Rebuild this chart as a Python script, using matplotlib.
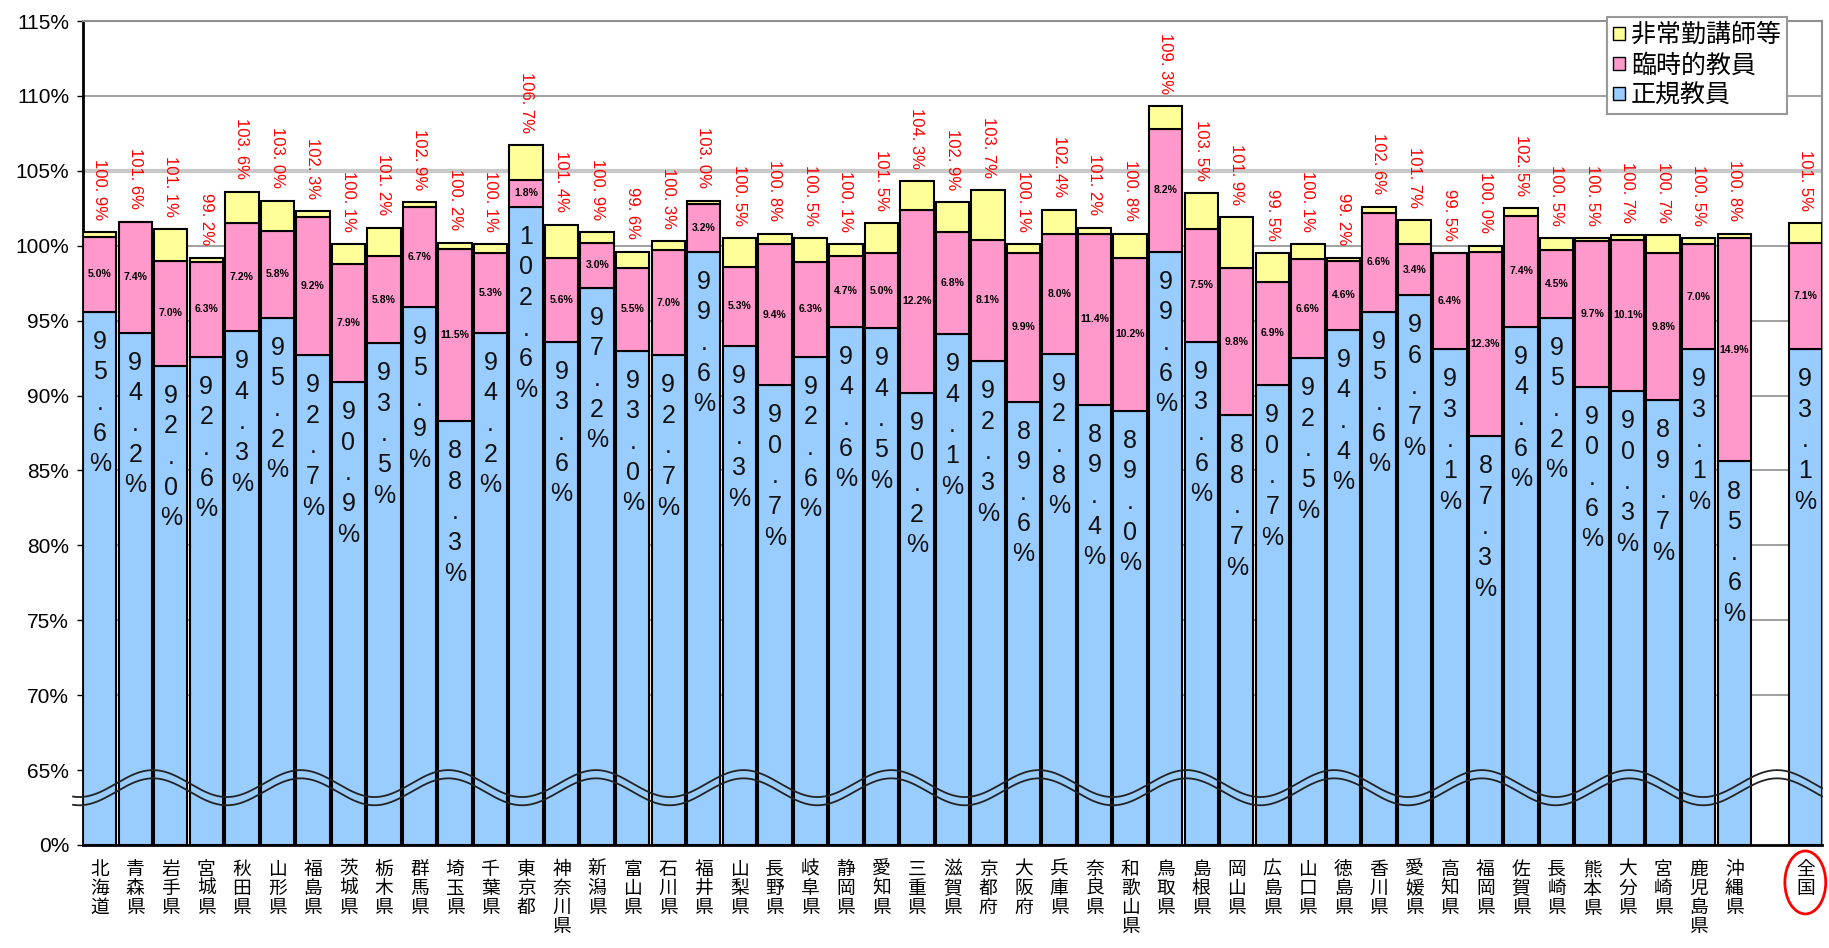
import numpy as np
import matplotlib.pyplot as plt
from matplotlib.patches import Patch, Ellipse

plt.rcParams['font.family'] = ['Liberation Sans', 'Noto Sans CJK JP', 'DejaVu Sans']

# 都道府県 + 全国
names = ['北海道', '青森県', '岩手県', '宮城県', '秋田県', '山形県', '福島県', '茨城県',
         '栃木県', '群馬県', '埼玉県', '千葉県', '東京都', '神奈川県', '新潟県', '富山県',
         '石川県', '福井県', '山梨県', '長野県', '岐阜県', '静岡県', '愛知県', '三重県',
         '滋賀県', '京都府', '大阪府', '兵庫県', '奈良県', '和歌山県', '鳥取県', '島根県',
         '岡山県', '広島県', '山口県', '徳島県', '香川県', '愛媛県', '高知県', '福岡県',
         '佐賀県', '長崎県', '熊本県', '大分県', '宮崎県', '鹿児島県', '沖縄県', '全国']

# 正規教員 (%)
seiki = [95.6, 94.2, 92.0, 92.6, 94.3, 95.2, 92.7, 90.9, 93.5, 95.9, 88.3, 94.2,
         102.6, 93.6, 97.2, 93.0, 92.7, 99.6, 93.3, 90.7, 92.6, 94.6, 94.5, 90.2,
         94.1, 92.3, 89.6, 92.8, 89.4, 89.0, 99.6, 93.6, 88.7, 90.7, 92.5, 94.4,
         95.6, 96.7, 93.1, 87.3, 94.6, 95.2, 90.6, 90.3, 89.7, 93.1, 85.6, 93.1]

# 臨時的教員 (%)
rinji = [5.0, 7.4, 7.0, 6.3, 7.2, 5.8, 9.2, 7.9, 5.8, 6.7, 11.5, 5.3,
         1.8, 5.6, 3.0, 5.5, 7.0, 3.2, 5.3, 9.4, 6.3, 4.7, 5.0, 12.2,
         6.8, 8.1, 9.9, 8.0, 11.4, 10.2, 8.2, 7.5, 9.8, 6.9, 6.6, 4.6,
         6.6, 3.4, 6.4, 12.3, 7.4, 4.5, 9.7, 10.1, 9.8, 7.0, 14.9, 7.1]

# 合計 (%)
goukei = [100.9, 101.6, 101.1, 99.2, 103.6, 103.0, 102.3, 100.1, 101.2, 102.9, 100.2, 100.1,
          106.7, 101.4, 100.9, 99.6, 100.3, 103.0, 100.5, 100.8, 100.5, 100.1, 101.5, 104.3,
          102.9, 103.7, 100.1, 102.4, 101.2, 100.8, 109.3, 103.5, 101.9, 99.5, 100.1, 99.2,
          102.6, 101.7, 99.5, 100.0, 102.5, 100.5, 100.5, 100.7, 100.7, 100.5, 100.8, 101.5]

tick_vals = [0, 65, 70, 75, 80, 85, 90, 95, 100, 105, 110, 115]

BASE = 60  # axis break: 0% .. 65% compressed into one step

blue = np.array(seiki)
pink = np.array(rinji)
total = np.array(goukei)
yellow = np.clip(np.round(total - blue - pink, 1), 0, None)

x = np.r_[np.arange(len(names) - 1), len(names)]

c_blue, c_pink, c_yel = '#99CCFF', '#FF99CC', '#FFFF99'
w = 0.94

fig = plt.figure(figsize=(18.29, 9.48), dpi=100)
ax = fig.add_axes([83 / 1829, 1 - 845 / 948, (1822 - 83) / 1829, (845 - 21) / 948])

ax.bar(x, blue - BASE, w, color=c_blue, edgecolor='black', linewidth=1.5, zorder=3)
ax.bar(x, pink, w, bottom=blue - BASE, color=c_pink, edgecolor='black', linewidth=1.5, zorder=3)
ax.bar(x, yellow, w, bottom=blue + pink - BASE, color=c_yel, edgecolor='black', linewidth=1.5, zorder=3)

for xi, b, p, t in zip(x, blue, pink, total):
    ax.annotate(f'{t:.1f}%'.replace('.', '. '), (xi, t - BASE), xytext=(0, 9),
                textcoords='offset points', rotation=270, ha='center', va='bottom',
                color='red', fontsize=12, zorder=6)
    ax.text(xi, b - BASE + p / 2, f'{p:.1f}%', ha='center', va='center',
            fontsize=7.5, fontweight='bold', zorder=6)
    ax.annotate('\n'.join(f'{b:.1f}%'), (xi, b - BASE), xytext=(0, -13),
                textcoords='offset points', ha='center', va='top', fontsize=18,
                linespacing=1.35, color='#111111', zorder=6)

# gridlines
for v in tick_vals[2:-1]:
    if v == 105:
        ax.axhline(v - BASE, color='#C8C8C8', lw=3, zorder=1)
    else:
        ax.axhline(v - BASE, color='#909090', lw=1.2, zorder=1)

# wavy break lines
xs = np.linspace(-0.75, x[-1] + w / 2, 900)
wave = 4.1 + 0.9 * np.cos(2 * np.pi * (xs - 1.5) / 4.155)
ax.plot(xs, wave, color='#222222', lw=1.3, zorder=5, clip_on=False)
ax.plot(xs, wave - 0.55, color='#222222', lw=1.3, zorder=5, clip_on=False)

ax.set_xlim(-w / 2, x[-1] + w / 2)
ax.set_ylim(0, tick_vals[-1] - BASE)
ax.set_yticks([0] + [v - BASE for v in tick_vals[1:]])
ax.set_yticklabels([f'{v}%' for v in tick_vals], fontsize=15)
ax.tick_params(axis='y', length=4, width=1, pad=6)

ax.set_xticks(x)
ax.set_xticklabels(['\n'.join(n) for n in names], fontsize=13.5, linespacing=1.15)
ax.tick_params(axis='x', length=0, pad=12)

for s in ['left', 'bottom']:
    ax.spines[s].set_color('black')
    ax.spines[s].set_linewidth(2)
for s in ['top', 'right']:
    ax.spines[s].set_color('#909090')
    ax.spines[s].set_linewidth(1.5)

# 全国 circled
ax.add_patch(Ellipse((x[-1], -2.5), width=1.15, height=4.2, fill=False,
                     edgecolor='red', lw=2, clip_on=False))

handles = [Patch(facecolor=c_yel, edgecolor='black', label='非常勤講師等'),
           Patch(facecolor=c_pink, edgecolor='black', label='臨時的教員'),
           Patch(facecolor=c_blue, edgecolor='black', label='正規教員')]
leg = ax.legend(handles=handles, loc='upper right', bbox_to_anchor=(0.98, 1.005),
                fontsize=18, fancybox=False, edgecolor='#999999', framealpha=1,
                handlelength=0.45, handleheight=0.45, handletextpad=0.25,
                labelspacing=0.25, borderpad=0.25, borderaxespad=0)
leg.get_frame().set_linewidth(1.5)
leg.set_zorder(10)

fig.savefig('out.png', dpi=100)
